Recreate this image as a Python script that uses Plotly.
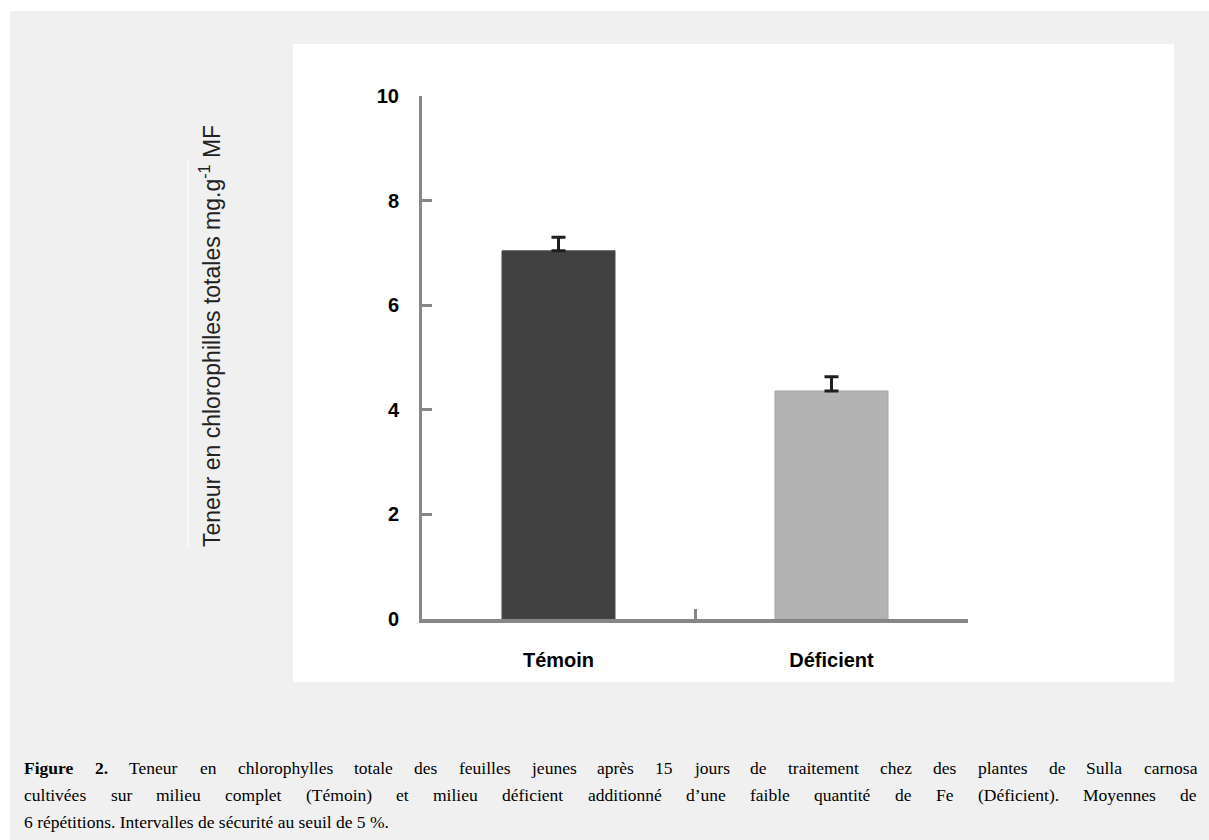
import plotly.graph_objects as go

# ---- data ----
categories = ["Témoin", "Déficient"]
values = [7.04, 4.36]
errors_up = [0.26, 0.27]
bar_colors = ["#404040", "#b3b3b3"]
y_ticks = [0, 2, 4, 6, 8, 10]
y_title = "Teneur en chlorophilles totales mg.g<sup>-1</sup> MF"
caption_line1 = ["<b>Figure</b>", "<b>2.</b>", "Teneur", "en", "chlorophylles", "totale", "des", "feuilles",
                 "jeunes", "après", "15", "jours", "de", "traitement", "chez", "des", "plantes", "de",
                 "Sulla", "carnosa"]
caption_line2 = ["cultivées", "sur", "milieu", "complet", "(Témoin)", "et", "milieu", "déficient",
                 "additionné", "d’une", "faible", "quantité", "de", "Fe", "(Déficient).", "Moyennes", "de"]
caption_line3 = "6 répétitions. Intervalles de sécurité au seuil de 5 %."

W, H = 1209, 840
def px(x):
    return x / W
def py(y):
    return 1 - y / H

TIMES = {' ': 250, '.': 250, ',': 250, '(': 333, ')': 333, '%': 833, '’': 333,
         'A': 722, 'B': 667, 'C': 667, 'D': 722, 'E': 611, 'F': 556, 'G': 722, 'H': 722, 'I': 333,
         'J': 389, 'K': 722, 'L': 611, 'M': 889, 'N': 722, 'O': 722, 'P': 556, 'Q': 722, 'R': 667,
         'S': 556, 'T': 611, 'U': 722, 'V': 722, 'W': 944, 'X': 722, 'Y': 722, 'Z': 611,
         'a': 444, 'b': 500, 'c': 444, 'd': 500, 'e': 444, 'f': 333, 'g': 500, 'h': 500, 'i': 278,
         'j': 278, 'k': 500, 'l': 278, 'm': 778, 'n': 500, 'o': 500, 'p': 500, 'q': 500, 'r': 333,
         's': 389, 't': 278, 'u': 500, 'v': 500, 'w': 722, 'x': 500, 'y': 500, 'z': 444,
         'é': 444, 'è': 444, 'à': 444}
BOLD = {'F': 611, 'i': 278, 'g': 500, 'u': 556, 'r': 444, 'e': 444, '2': 500, '.': 250}

def word_width(w, size):
    bold = w.startswith("<b>")
    t = w.replace("<b>", "").replace("</b>", "")
    tab = BOLD if bold else TIMES
    return sum(tab.get(c, TIMES.get(c, 500)) for c in t) / 1000 * size

CAP_SIZE = 17.5
CAP_FONT = dict(family="Liberation Serif, Times New Roman", size=CAP_SIZE, color="black")
LEFT, RIGHT = 23, 1196

AX = "#878787"
TICKFONT = dict(family="Liberation Sans, Arial", size=20, color="black", weight="bold")

fig = go.Figure()
fig.add_trace(go.Bar(
    x=categories, y=values,
    marker=dict(color=bar_colors, line=dict(color=["#4a4a4a", "#a6a6a6"], width=1)),
    width=0.414,
    error_y=dict(type="data", symmetric=False, array=errors_up, arrayminus=[0, 0],
                 color="#1e1e1e", thickness=3, width=7),
    showlegend=False,
))

shapes = [
    dict(type="rect", xref="paper", yref="paper", x0=px(10), x1=1.0, y0=0.0, y1=py(11),
         fillcolor="#f0f0f0", line=dict(width=0), layer="below"),
    dict(type="rect", xref="paper", yref="paper", x0=px(293), x1=px(1174), y0=py(682), y1=py(44),
         fillcolor="white", line=dict(width=0), layer="below"),
    dict(type="line", xref="paper", yref="paper", x0=px(188), x1=px(188), y0=py(548), y1=py(159),
         line=dict(color="#fdfdfd", width=1.2)),
]

annotations = [
    dict(text=y_title, x=px(210), y=py(336), xref="paper", yref="paper", textangle=-90,
         showarrow=False, xanchor="center", yanchor="middle",
         font=dict(family="Liberation Sans, Arial", size=23, color="#222222")),
]

def justified(words, yy):
    widths = [word_width(w, CAP_SIZE) for w in words]
    gap = (RIGHT - LEFT - sum(widths)) / (len(words) - 1)
    x = LEFT
    for w, wd in zip(words, widths):
        annotations.append(dict(text=w, x=px(x), y=py(yy), xref="paper", yref="paper",
                                showarrow=False, xanchor="left", yanchor="middle",
                                font=CAP_FONT, borderpad=0))
        x += wd + gap

justified(caption_line1, 768)
justified(caption_line2, 795)
annotations.append(dict(text=caption_line3, x=px(LEFT), y=py(822), xref="paper", yref="paper",
                        showarrow=False, xanchor="left", yanchor="middle", font=CAP_FONT, borderpad=0))

fig.update_layout(
    width=W, height=H,
    margin=dict(l=0, r=0, t=0, b=0, pad=0, autoexpand=False),
    paper_bgcolor="white",
    plot_bgcolor="rgba(0,0,0,0)",
    shapes=shapes,
    annotations=annotations,
    xaxis=dict(domain=[px(422), px(968)], showline=True, linecolor=AX, linewidth=4,
               ticks="inside", tickson="boundaries", ticklen=10, tickwidth=3, tickcolor=AX,
               tickfont=TICKFONT, ticklabelstandoff=20, showgrid=False, zeroline=False,
               automargin=False),
    yaxis=dict(domain=[py(619), py(96)], range=[0, 10], tickvals=y_ticks,
               showline=True, linecolor=AX, linewidth=3,
               ticks="inside", ticklen=10, tickwidth=3, tickcolor=AX,
               tickfont=TICKFONT, ticklabelstandoff=16, showgrid=False, zeroline=False,
               automargin=False),
)

fig.write_html(
    "out.html",
    config={"displayModeBar": False},
    post_script=(
        "document.documentElement.style.margin='0';document.body.style.margin='0';"
        "document.documentElement.style.overflow='hidden';document.body.style.overflow='hidden';"
        "var gd=document.getElementById('{plot_id}');"
        "gd.style.position='fixed';gd.style.top='0';gd.style.left='0';"
    ),
)
